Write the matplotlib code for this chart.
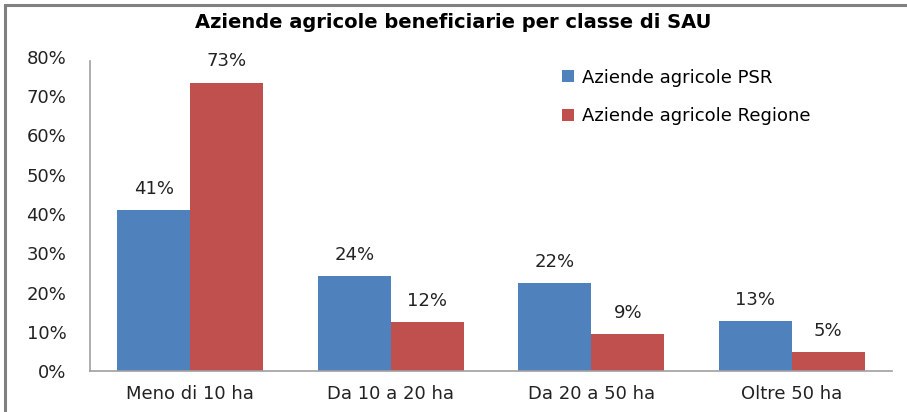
import matplotlib.pyplot as plt
import numpy as np
from matplotlib.patches import Rectangle

categories = ["Meno di 10 ha", "Da 10 a 20 ha", "Da 20 a 50 ha", "Oltre 50 ha"]
psr = [40.9, 24.1, 22.4, 12.7]
regione = [73.4, 12.4, 9.4, 4.8]
series_names = ["Aziende agricole PSR", "Aziende agricole Regione"]
yticks = [0, 10, 20, 30, 40, 50, 60, 70, 80]

W, H = 907, 412
fig = plt.figure(figsize=(W / 100, H / 100), dpi=100)
ax = fig.add_axes([90 / W, 1 - 371 / H, (892 - 90) / W, (371 - 57) / H])

blue = "#4f81bd"
red = "#c0504d"
fs = 13
x = np.arange(len(categories))
w = 0.364
b1 = ax.bar(x - w / 2, psr, w, color=blue, label=series_names[0])
b2 = ax.bar(x + w / 2, regione, w, color=red, label=series_names[1])

for bars in (b1, b2):
    for rect in bars:
        v = rect.get_height()
        ax.annotate(f"{v:.0f}%", (rect.get_x() + rect.get_width() / 2, v),
                    xytext=(0, 9), textcoords="offset points",
                    ha="center", va="bottom", fontsize=fs, color="#222222")

ax.set_xlim(-0.5, len(categories) - 0.5)
ax.set_ylim(0, 80)
ax.set_yticks(yticks)
ax.set_yticklabels([f"{t}%" for t in yticks])
ax.set_xticks(x)
ax.set_xticklabels(categories)
ax.tick_params(axis="both", length=0, labelsize=fs, colors="#222222")
ax.tick_params(axis="y", pad=17)
ax.tick_params(axis="x", pad=10)
for s in ("top", "right"):
    ax.spines[s].set_visible(False)
for s in ("left", "bottom"):
    ax.spines[s].set_color("#a0a0a0")
    ax.spines[s].set_linewidth(1.2)
ax.spines["left"].set_bounds(0, 79)

fig.text(453 / W, 1 - 22 / H, "Aziende agricole beneficiarie per classe di SAU",
         ha="center", va="center", fontsize=14, fontweight="bold")

leg = ax.legend(loc="upper left", bbox_to_anchor=((546 - 90) / (892 - 90), 1.015),
                frameon=False, fontsize=fs, handlelength=0.65, handleheight=0.65,
                labelspacing=1.15, handletextpad=0.45)

# outer chart frame (left and top edges visible)
fig.patches.append(Rectangle((5 / W, -0.1), 1.1, 1 - 5 / H + 0.1, transform=fig.transFigure,
                             fill=False, edgecolor="#808080", linewidth=2.2))

fig.savefig("out.png", dpi=100)
